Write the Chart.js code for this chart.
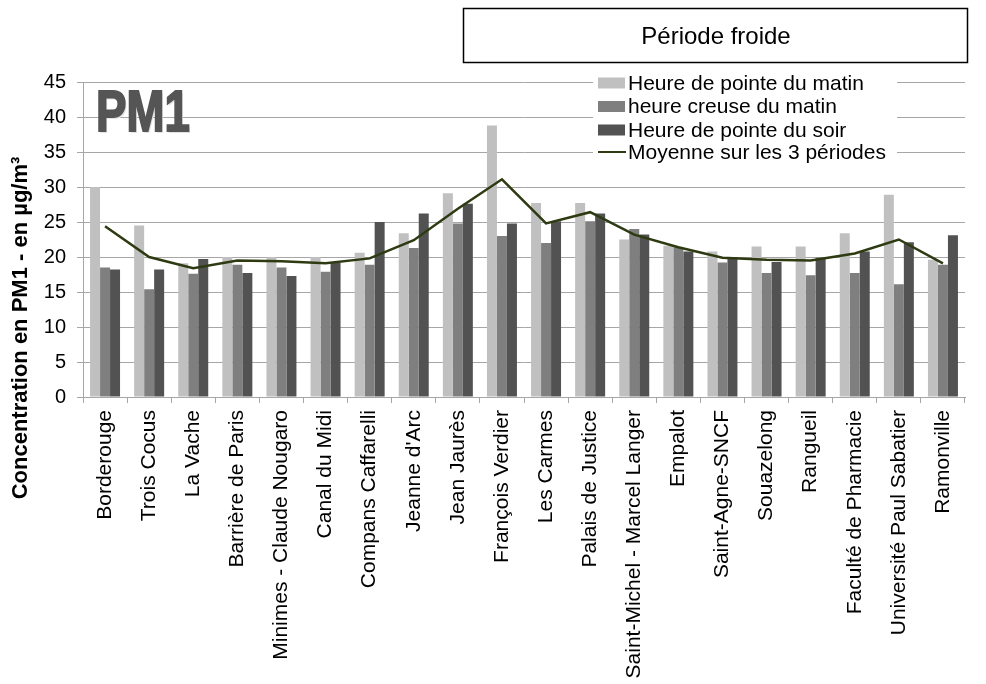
<!DOCTYPE html>
<html>
<head>
<meta charset="utf-8">
<script src="https://cdn.jsdelivr.net/npm/chart.js@4/dist/chart.umd.min.js"></script>
<style>
  html, body { margin: 0; padding: 0; background: #ffffff; }
  #wrap { width: 986px; height: 684px; position: relative; }
</style>
</head>
<body>
<div id="wrap"><canvas id="chart" width="986" height="684"></canvas></div>
<script>
// Sites de mesure
const sites = [
  'Borderouge', 'Trois Cocus', 'La Vache', 'Barrière de Paris',
  'Minimes - Claude Nougaro', 'Canal du Midi', 'Compans Caffarelli',
  "Jeanne d'Arc", 'Jean Jaurès', 'François Verdier', 'Les Carmes',
  'Palais de Justice', 'Saint-Michel - Marcel Langer', 'Empalot',
  'Saint-Agne-SNCF', 'Souazelong', 'Rangueil', 'Faculté de Pharmacie',
  'Université Paul Sabatier', 'Ramonville'
];

// Concentrations PM1 (µg/m³)
const pointeMatin = [30.0, 24.5, 19.1, 20.0, 20.0, 20.0, 20.6, 23.4, 29.1, 38.8,
                     27.7, 27.7, 22.5, 21.6, 20.8, 21.5, 21.5, 23.4, 28.9, 19.6];
const creuseMatin = [18.5, 15.4, 17.6, 18.9, 18.5, 17.9, 18.9, 21.3, 24.8, 23.0,
                     22.0, 25.1, 24.0, 21.4, 19.2, 17.7, 17.4, 17.7, 16.1, 18.9];
const pointeSoir  = [18.2, 18.2, 19.7, 17.7, 17.3, 19.2, 25.0, 26.2, 27.6, 24.8,
                     25.1, 26.2, 23.2, 20.8, 20.0, 19.3, 19.9, 20.8, 22.1, 23.1];
const moyenne     = [24.4, 20.0, 18.4, 19.5, 19.4, 19.1, 19.8, 22.4, 26.9, 31.1,
                     24.8, 26.4, 23.2, 21.4, 19.9, 19.6, 19.5, 20.5, 22.5, 19.1];

const seriesLabels = [
  'Heure de pointe du matin',
  'heure creuse du matin',
  'Heure de pointe du soir',
  'Moyenne sur les 3 périodes'
];
const periodTitle = 'Période froide';
const badgeText = 'PM1';
const yTitle = 'Concentration en PM1 - en µg/m³';
const yTicks = [0, 5, 10, 15, 20, 25, 30, 35, 40, 45];

const FONT = "'Liberation Sans', Arial, sans-serif";

// Boxed period title, "PM1" badge, rotated axis title and overlay legend
const decorations = {
  id: 'decorations',
  afterDraw(chart) {
    const ctx = chart.ctx;
    ctx.save();

    // period title box
    ctx.fillStyle = '#ffffff';
    ctx.fillRect(463, 8, 505, 55);
    ctx.strokeStyle = '#000000';
    ctx.lineWidth = 1.5;
    ctx.strokeRect(463.5, 8.5, 504, 54);
    ctx.fillStyle = '#000000';
    ctx.font = '24px ' + FONT;
    ctx.textAlign = 'center';
    ctx.textBaseline = 'middle';
    ctx.fillText(periodTitle, 716, 37);

    // PM1 badge
    ctx.save();
    ctx.translate(96, 131);
    ctx.scale(0.8, 1);
    ctx.font = 'bold 57px ' + FONT;
    ctx.textAlign = 'left';
    ctx.textBaseline = 'alphabetic';
    ctx.fillStyle = '#e3e3e3';
    ctx.fillText(badgeText, 2, 2);
    ctx.fillStyle = '#555555';
    ctx.strokeStyle = '#555555';
    ctx.lineWidth = 2;
    ctx.lineJoin = 'miter';
    ctx.fillText(badgeText, 0, 0);
    ctx.strokeText(badgeText, 0, 0);
    ctx.restore();

    // y axis title
    ctx.save();
    ctx.translate(21, 328);
    ctx.rotate(-Math.PI / 2);
    ctx.font = 'bold 22px ' + FONT;
    ctx.fillStyle = '#000000';
    ctx.textAlign = 'center';
    ctx.textBaseline = 'middle';
    ctx.fillText(yTitle, 0, 0);
    ctx.restore();

    // legend over the plot
    const lx = 593, ly = 72, lw = 304, lh = 92;
    ctx.fillStyle = '#ffffff';
    ctx.fillRect(lx, ly, lw, lh);
    const rows = [83, 106.5, 130, 152];
    ctx.font = '21px ' + FONT;
    ctx.textAlign = 'left';
    ctx.textBaseline = 'middle';
    chart.data.datasets.forEach((ds, i) => {
      const cy = rows[i];
      if (ds.type === 'line') {
        ctx.strokeStyle = ds.borderColor;
        ctx.lineWidth = 2;
        ctx.beginPath();
        ctx.moveTo(598, cy);
        ctx.lineTo(626, cy);
        ctx.stroke();
      } else {
        ctx.fillStyle = ds.backgroundColor;
        ctx.fillRect(598, cy - 5.5, 27, 11);
      }
      ctx.fillStyle = '#000000';
      ctx.fillText(ds.label, 628, cy + 1);
    });

    ctx.restore();
  }
};

new Chart(document.getElementById('chart'), {
  data: {
    labels: sites,
    datasets: [
      { type: 'bar', label: seriesLabels[0], data: pointeMatin, backgroundColor: '#c0c0c0', order: 1 },
      { type: 'bar', label: seriesLabels[1], data: creuseMatin, backgroundColor: '#7f7f7f', order: 1 },
      { type: 'bar', label: seriesLabels[2], data: pointeSoir,  backgroundColor: '#525252', order: 1 },
      { type: 'line', label: seriesLabels[3], data: moyenne, borderColor: '#2e3b12',
        borderWidth: 2.5, pointRadius: 0, tension: 0, fill: false, order: 0 }
    ]
  },
  options: {
    responsive: false,
    animation: false,
    devicePixelRatio: 1,
    layout: { padding: { top: 82, right: 21, bottom: 0, left: 0 } },
    datasets: { bar: { categoryPercentage: 0.68, barPercentage: 1.0 } },
    plugins: {
      legend: { display: false },
      tooltip: { enabled: false },
      title: { display: false }
    },
    scales: {
      x: {
        type: 'category',
        offset: true,
        grid: { display: true, drawOnChartArea: false, drawTicks: true, tickLength: 6,
                offset: true, color: '#a6a6a6' },
        border: { display: true, color: '#a6a6a6', width: 1 },
        ticks: {
          color: '#000000',
          font: { family: FONT, size: 21 },
          minRotation: 90, maxRotation: 90,
          autoSkip: false,
          padding: 7
        },
        afterFit(scale) { scale.height = 287; }
      },
      y: {
        min: 0, max: 45,
        afterBuildTicks(scale) { scale.ticks = yTicks.map(v => ({ value: v })); },
        grid: { color: '#a6a6a6', lineWidth: 1, drawTicks: true, tickLength: 6 },
        border: { display: true, color: '#a6a6a6', width: 1 },
        ticks: {
          color: '#000000',
          font: { family: FONT, size: 20 },
          padding: 11
        },
        afterFit(scale) { scale.width = 83; }
      }
    }
  },
  plugins: [decorations]
});
</script>
</body>
</html>
